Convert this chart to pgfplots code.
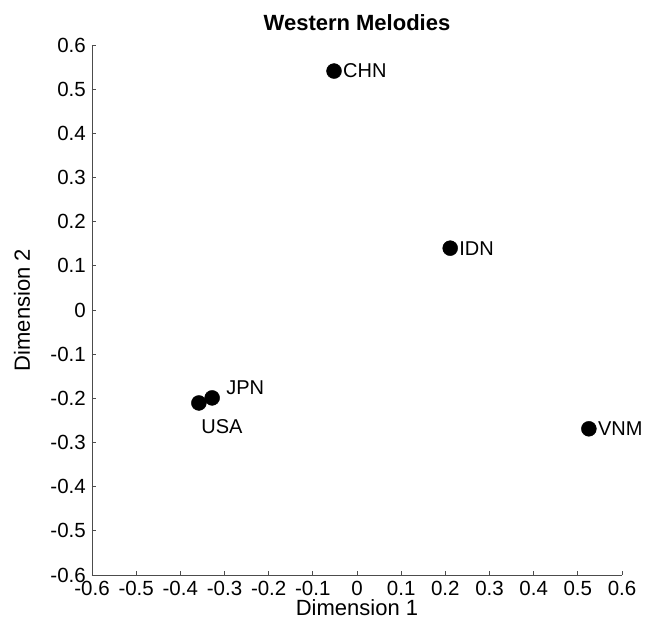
\documentclass[border=0pt]{standalone}
\usepackage{fontspec}
\setmainfont{Liberation Sans}
\usepackage{pgfplots}
\pgfplotsset{compat=1.18}
\begin{document}
\begin{tikzpicture}
\begin{axis}[
  scale only axis, width=530pt, height=530pt,
  xmin=-0.6, xmax=0.6, ymin=-0.6, ymax=0.6,
  axis x line*=bottom, axis y line*=left,
  axis line style={draw=black!70, line width=0.8pt, -},
  tick style={draw=black!70, line width=0.8pt},
  tick align=inside, major tick length=4pt,
  xtick={-0.6,-0.5,-0.4,-0.3,-0.2,-0.1,0,0.1,0.2,0.3,0.4,0.5,0.6},
  ytick={-0.6,-0.5,-0.4,-0.3,-0.2,-0.1,0,0.1,0.2,0.3,0.4,0.5,0.6},
  xticklabels={-0.6,-0.5,-0.4,-0.3,-0.2,-0.1,0,0.1,0.2,0.3,0.4,0.5,0.6},
  yticklabels={-0.6,-0.5,-0.4,-0.3,-0.2,-0.1,0,0.1,0.2,0.3,0.4,0.5,0.6},
  tick label style={font=\fontsize{20.5}{22}\selectfont},
  xticklabel style={inner sep=0pt, yshift=-6pt},
  yticklabel style={inner sep=0pt, xshift=-6pt},
  xlabel={Dimension 1}, ylabel={Dimension 2},
  label style={font=\fontsize{22}{24}\selectfont},
  xlabel style={at={(axis description cs:0.5,-0.062)}, anchor=center},
  ylabel style={at={(axis description cs:-0.132,0.5)}, anchor=center},
  title={Western Melodies},
  title style={font=\fontsize{22}{24}\selectfont\bfseries, at={(axis description cs:0.5,1.030)}, anchor=center},
  clip=false,
]
\addplot[only marks, mark=*, mark size=7.5pt, black,
  nodes near coords, point meta=explicit symbolic,
  every node near coord/.append style={anchor=west, inner sep=0pt, xshift=9pt, font=\fontsize{20}{22}\selectfont}]
  table[meta=label]{
x y label
-0.052 0.541 CHN
0.211 0.140 IDN
0.525 -0.269 VNM
};
\addplot[only marks, mark=*, mark size=7.5pt, black,
  nodes near coords, point meta=explicit symbolic,
  every node near coord/.append style={anchor=west, inner sep=0pt, xshift=14pt, yshift=10pt, font=\fontsize{20}{22}\selectfont}]
  table[meta=label]{
x y label
-0.328 -0.199 JPN
};
\addplot[only marks, mark=*, mark size=7.5pt, black,
  nodes near coords, point meta=explicit symbolic,
  every node near coord/.append style={anchor=north, inner sep=0pt, xshift=23pt, yshift=-16pt, font=\fontsize{20}{22}\selectfont}]
  table[meta=label]{
x y label
-0.358 -0.2105 USA
};
\end{axis}
\path (current axis.south west) ++(-92pt,-54pt) rectangle ++(647pt,629pt);
\end{tikzpicture}
\end{document}
